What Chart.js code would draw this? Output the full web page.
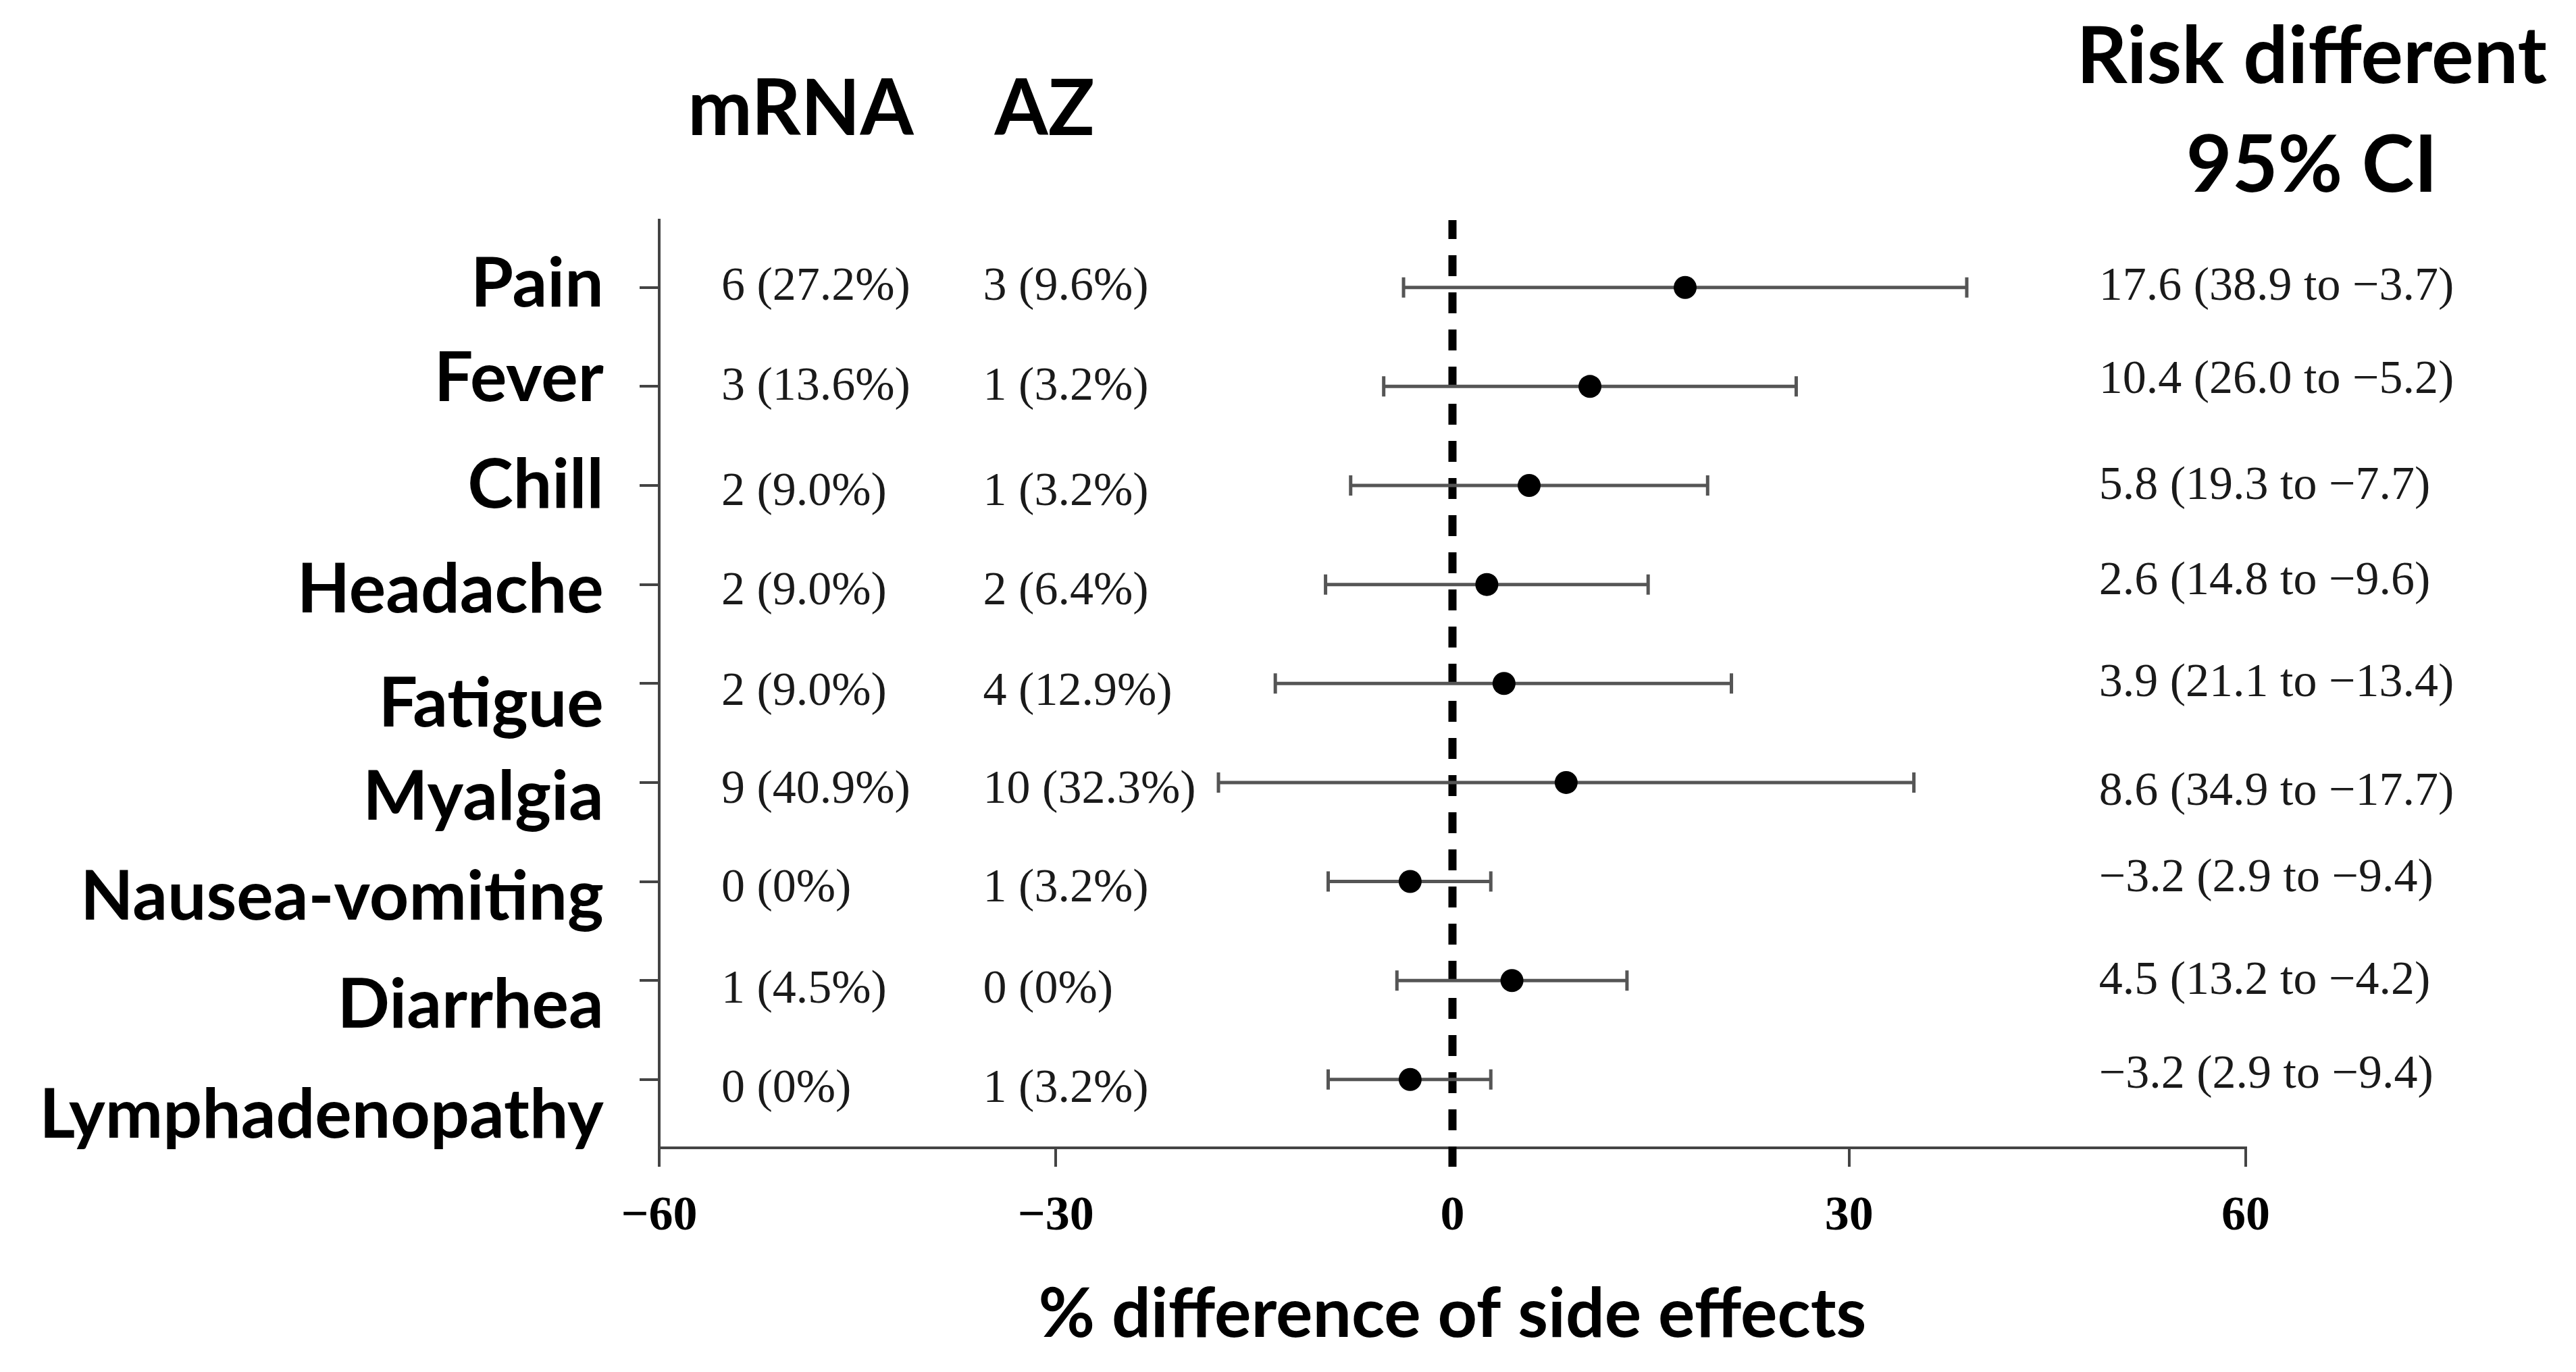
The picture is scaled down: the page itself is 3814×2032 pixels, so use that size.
<!DOCTYPE html>
<html>
<head>
<meta charset="utf-8">
<script src="https://cdn.jsdelivr.net/npm/chart.js@4.4.1/dist/chart.umd.min.js"></script>
<style>
  html, body { margin: 0; padding: 0; background: #ffffff; }
  #wrap { width: 3814px; height: 2032px; }
</style>
</head>
<body>
<div id="wrap"><canvas id="c" width="3814" height="2032"></canvas></div>
<script>
// ---------------- DATA ----------------
const categories = ['Pain', 'Fever', 'Chill', 'Headache', 'Fatigue', 'Myalgia', 'Nausea-vomiting', 'Diarrhea', 'Lymphadenopathy'];
const mrnaCounts = ['6 (27.2%)', '3 (13.6%)', '2 (9.0%)', '2 (9.0%)', '2 (9.0%)', '9 (40.9%)', '0 (0%)', '1 (4.5%)', '0 (0%)'];
const azCounts   = ['3 (9.6%)', '1 (3.2%)', '1 (3.2%)', '2 (6.4%)', '4 (12.9%)', '10 (32.3%)', '1 (3.2%)', '0 (0%)', '1 (3.2%)'];
const riskDiff = [17.6, 10.4, 5.8, 2.6, 3.9, 8.6, -3.2, 4.5, -3.2];
const ciUpper  = [38.9, 26.0, 19.3, 14.8, 21.1, 34.9, 2.9, 13.2, 2.9];
const ciLower  = [-3.7, -5.2, -7.7, -9.6, -13.4, -17.7, -9.4, -4.2, -9.4];
const xTicks = [-60, -30, 0, 30, 60];
const headerMRNA = 'mRNA';
const headerAZ = 'AZ';
const headerRisk = ['Risk different', '95% CI'];
const xTitle = '% difference of side effects';

// ---------------- LAYOUT (positions in axis units, styles) ----------------
const labelShift = [-0.03, -0.075, 0.0, 0.06, 0.21, 0.15, 0.16, 0.25, 0.36];   // category label drift (rows)
const countShift = [0.0, 0.01, 0.07, 0.075, 0.09, 0.08, 0.075, 0.1, 0.1];      // count columns drift (rows)
const riskShift  = [0.0, -0.057, 0.014, -0.03, 0.0, 0.10, -0.03, 0.01, -0.045]; // risk text drift (rows)
const COL = { label: -64.2, mrna: -55.3, az: -35.5, risk: 48.9, hdrMRNA: -49.3, hdrAZ: -30.85, hdrRisk: 65.0 };
const ROWHDR = { mrna: -1.79, risk1: -2.32, risk2: -1.225 };
const AXIS_COLOR = '#444444';
const SANS = 'Lato';
const SERIF = '"Liberation Serif"';

const minus = s => s.replace(/-/g, '\u2212');
const riskText = riskDiff.map((v, i) => minus(`${v.toFixed(1)} (${ciUpper[i].toFixed(1)} to ${ciLower[i].toFixed(1)})`));

const forestPlugin = {
  id: 'forest',
  beforeDatasetsDraw(chart) {
    const { ctx, scales: { x, y }, chartArea } = chart;
    // dashed reference line at 0
    ctx.save();
    const x0 = x.getPixelForValue(0);
    ctx.strokeStyle = '#000000';
    ctx.lineWidth = 12;
    ctx.setLineDash([31, 24]);
    ctx.lineDashOffset = 3;
    ctx.beginPath();
    ctx.moveTo(x0, chartArea.top);
    ctx.lineTo(x0, chartArea.bottom + 28);
    ctx.stroke();
    ctx.restore();
    // confidence interval bars
    ctx.save();
    ctx.strokeStyle = '#555555';
    ctx.lineWidth = 5;
    ctx.lineCap = 'butt';
    categories.forEach((c, i) => {
      const py = y.getPixelForValue(i);
      const xl = x.getPixelForValue(ciLower[i]);
      const xr = x.getPixelForValue(ciUpper[i]);
      ctx.beginPath();
      ctx.moveTo(xl, py); ctx.lineTo(xr, py);
      ctx.moveTo(xl, py - 15); ctx.lineTo(xl, py + 15);
      ctx.moveTo(xr, py - 15); ctx.lineTo(xr, py + 15);
      ctx.stroke();
    });
    ctx.restore();
  },
  afterDraw(chart) {
    const { ctx, scales: { x, y } } = chart;
    ctx.save();
    // category labels
    ctx.fillStyle = '#000000';
    ctx.font = `bold 102px ${SANS}`;
    ctx.textAlign = 'right';
    ctx.textBaseline = 'middle';
    categories.forEach((c, i) => {
      ctx.fillText(c, x.getPixelForValue(COL.label), y.getPixelForValue(i + labelShift[i]));
    });
    // counts
    ctx.fillStyle = '#1a1a1a';
    ctx.font = `70px ${SERIF}`;
    ctx.textAlign = 'left';
    categories.forEach((c, i) => {
      const py = y.getPixelForValue(i + countShift[i]);
      ctx.fillText(mrnaCounts[i], x.getPixelForValue(COL.mrna), py);
      ctx.fillText(azCounts[i], x.getPixelForValue(COL.az), py);
      ctx.fillText(riskText[i], x.getPixelForValue(COL.risk), y.getPixelForValue(i + riskShift[i]));
    });
    // headers
    ctx.fillStyle = '#000000';
    ctx.textAlign = 'center';
    ctx.font = `bold 114px ${SANS}`;
    ctx.fillText(headerMRNA, x.getPixelForValue(COL.hdrMRNA), y.getPixelForValue(ROWHDR.mrna));
    ctx.fillText(headerAZ, x.getPixelForValue(COL.hdrAZ), y.getPixelForValue(ROWHDR.mrna));
    ctx.font = `bold 117px ${SANS}`;
    ctx.fillText(headerRisk[0], x.getPixelForValue(COL.hdrRisk), y.getPixelForValue(ROWHDR.risk1));
    ctx.fillText(headerRisk[1], x.getPixelForValue(COL.hdrRisk), y.getPixelForValue(ROWHDR.risk2));
    ctx.restore();
  }
};

function make() {
  new Chart(document.getElementById('c'), {
    type: 'scatter',
    data: {
      datasets: [{
        data: riskDiff.map((v, i) => ({ x: v, y: i })),
        pointRadius: 17,
        pointHoverRadius: 17,
        pointBackgroundColor: '#000000',
        pointBorderWidth: 0,
        showLine: false
      }]
    },
    options: {
      responsive: false,
      devicePixelRatio: 1,
      animation: false,
      events: [],
      layout: { padding: { left: 916, right: 489, top: 326, bottom: 24 } },
      plugins: { legend: { display: false }, tooltip: { enabled: false } },
      scales: {
        x: {
          type: 'linear',
          position: 'bottom',
          min: -60, max: 60,
          afterBuildTicks: s => { s.ticks = xTicks.map(v => ({ value: v })); },
          afterFit: s => { s.height = 308; },
          grid: { drawOnChartArea: false, drawTicks: true, tickLength: 28, tickWidth: 4, tickColor: AXIS_COLOR, color: AXIS_COLOR, lineWidth: 4 },
          border: { display: true, color: AXIS_COLOR, width: 4 },
          ticks: {
            padding: 31,
            color: '#000000',
            font: { family: SERIF, weight: 'bold', size: 72 },
            callback: v => minus(String(v))
          },
          title: {
            display: true,
            text: xTitle,
            color: '#000000',
            font: { family: SANS, weight: 'bold', size: 102 },
            padding: { top: 0, bottom: 0 }
          }
        },
        y: {
          type: 'linear',
          position: 'left',
          reverse: true,
          min: -0.68, max: 8.69,
          afterBuildTicks: s => { s.ticks = categories.map((c, i) => ({ value: i })); },
          afterFit: s => { s.width = 60; },
          grid: { drawOnChartArea: false, drawTicks: true, tickLength: 29, tickWidth: 4, tickColor: AXIS_COLOR, color: AXIS_COLOR, lineWidth: 4 },
          border: { display: true, color: AXIS_COLOR, width: 4 },
          ticks: { display: false }
        }
      }
    },
    plugins: [forestPlugin]
  });
}

Promise.all([
  document.fonts.load(`bold 100px ${SANS}`),
  document.fonts.load(`70px ${SERIF}`),
  document.fonts.load(`bold 70px ${SERIF}`)
]).then(make, make);
</script>
</body>
</html>
